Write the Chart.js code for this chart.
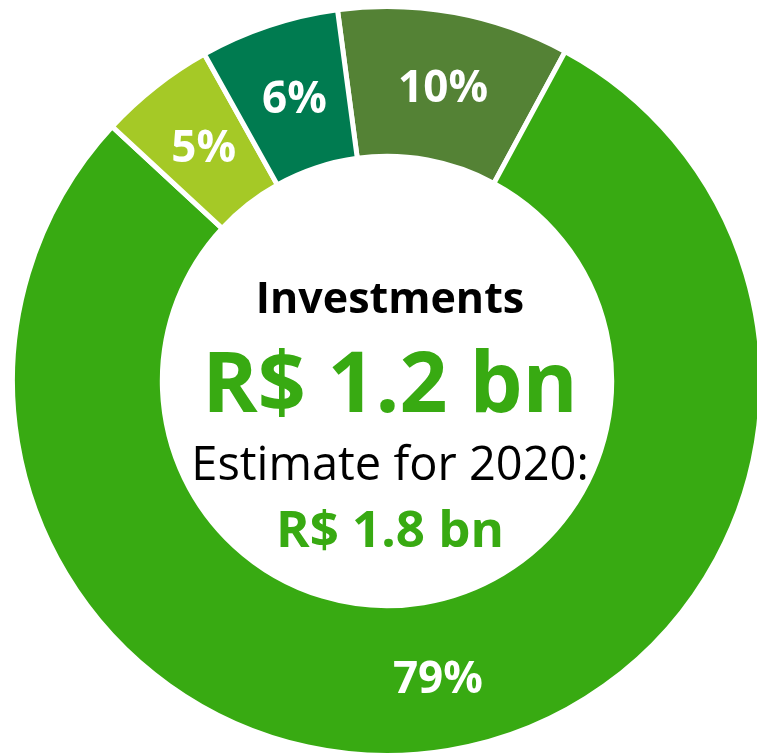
<!DOCTYPE html>
<html>
<head>
<meta charset="utf-8">
<script src="https://cdn.jsdelivr.net/npm/chart.js@4/dist/chart.umd.min.js"></script>
<style>
    html, body { margin: 0; padding: 0; background: #fff; overflow: hidden; }
    body { width: 757px; height: 756px; position: relative; }
    #wrap { position: absolute; left: 10px; top: 4px; width: 754px; height: 754px; }
</style>
</head>
<body>
<div id="wrap"><canvas id="investChart"></canvas></div>
<script>
// Investment split (share of total, %)
const categories = ['A', 'B', 'C', 'D'];
const shares = [10, 79, 5, 6];
const shareLabels = ['10%', '79%', '5%', '6%'];
const sliceColors = ['#548235', '#38aa12', '#a5c926', '#007b50'];

// Text in the hole
const centerLines = [
    { text: 'Investments', font: 'bold 43px "Open Sans"', color: '#000', dy: -68 },
    { text: 'R$ 1.2 bn', font: 'bold 84px "Open Sans"', color: '#38aa12', dy: 31 },
    { text: 'Estimate for 2020:', font: '47px "Open Sans"', color: '#000', dy: 99 },
    { text: 'R$ 1.8 bn', font: 'bold 51px "Open Sans"', color: '#38aa12', dy: 166 }
];

const sliceLabelPlugin = {
    id: 'sliceLabels',
    afterDraw(chart) {
        const ctx = chart.ctx;
        const meta = chart.getDatasetMeta(0);
        ctx.save();
        ctx.fillStyle = '#fff';
        ctx.font = 'bold 44px "Open Sans"';
        ctx.textAlign = 'center';
        ctx.textBaseline = 'alphabetic';
        meta.data.forEach((arc, i) => {
            const p = arc.tooltipPosition();
            ctx.fillText(shareLabels[i], p.x + 2, p.y + 16);
        });

        // centre text
        const c = meta.data[0];
        centerLines.forEach(line => {
            ctx.font = line.font;
            ctx.fillStyle = line.color;
            ctx.fillText(line.text, c.x + 3, c.y + line.dy);
        });
        ctx.restore();
    }
};

new Chart(document.getElementById('investChart').getContext('2d'), {
    type: 'doughnut',
    data: {
        labels: categories,
        datasets: [{
            data: shares,
            backgroundColor: sliceColors,
            borderColor: '#fff',
            borderWidth: 5
        }]
    },
    options: {
        responsive: true,
        maintainAspectRatio: false,
        animation: false,
        cutout: '60%',
        rotation: -7.6,
        layout: { padding: 0 },
        plugins: {
            legend: { display: false },
            tooltip: { enabled: false }
        }
    },
    plugins: [sliceLabelPlugin]
});
</script>
</body>
</html>
